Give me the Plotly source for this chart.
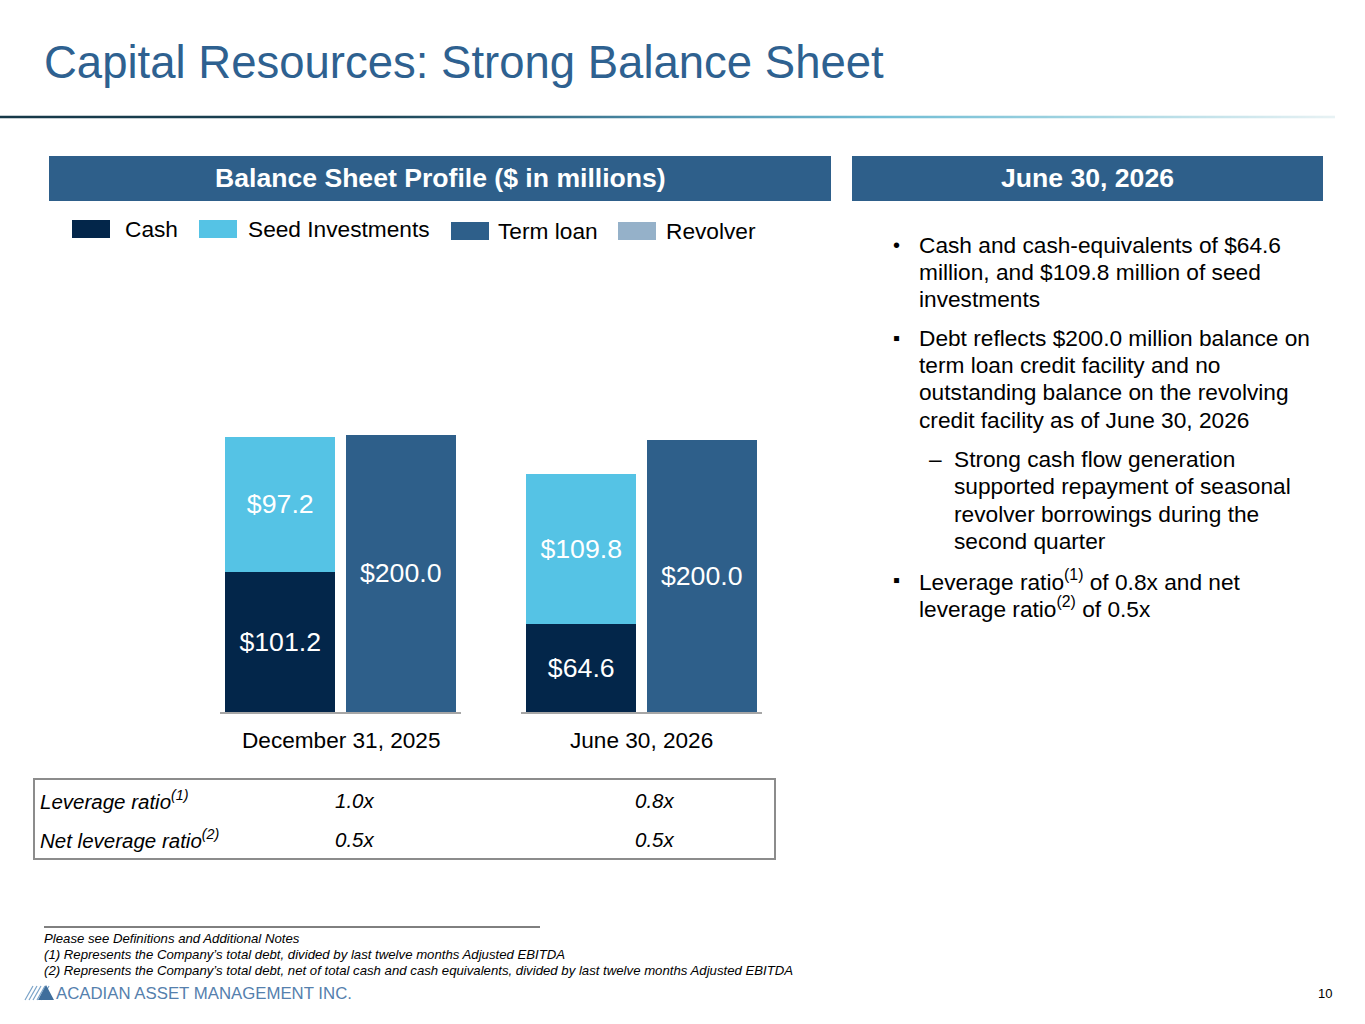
import plotly.graph_objects as go
from plotly.subplots import make_subplots

W, H = 1365, 1024

# Data ($ in millions)
periods = ["December 31, 2025", "June 30, 2026"]
cash = [101.2, 64.6]
seed_investments = [97.2, 109.8]
term_loan = [200.0, 200.0]
revolver = [0.0, 0.0]
leverage_ratio = ["1.0x", "0.8x"]
net_leverage_ratio = ["0.5x", "0.5x"]
bar_slots = ["assets", "debt"]

series_names = ["Cash", "Seed Investments", "Term loan", "Revolver"]
series_colors = ["#03264a", "#55c3e5", "#2e5f8a", "#95b1c9"]

FONT = "Arial, Liberation Sans, sans-serif"
BLUE = "#2e5f8a"


def px(x):
    return x / W


def py(y):
    return 1 - y / H


fig = make_subplots(rows=1, cols=2, shared_yaxes=False)

for i, period in enumerate(periods):
    col = i + 1
    stacks = [
        ("assets", cash[i], 0),
        ("assets", seed_investments[i], 1),
        ("debt", term_loan[i], 2),
        ("debt", revolver[i], 3),
    ]
    for slot, val, k in stacks:
        labelled = val > 0
        fig.add_trace(go.Bar(
            x=[slot], y=[val],
            name=series_names[k],
            marker=dict(color=series_colors[k], line=dict(width=0)),
            texttemplate="$%{y:.1f}" if labelled else None,
            textposition="inside" if labelled else "none",
            insidetextanchor="middle",
            textfont=dict(family=FONT, size=26.7, color="white"),
            showlegend=False,
            hoverinfo="skip",
        ), row=1, col=col)

# decorative gradient rule under the title (drawn as a smooth strip)
rule_stops = [(0.0, "rgb(22,56,72)"), (0.285, "rgb(28,69,86)"), (0.487, "rgb(74,138,166)"),
              (0.66, "rgb(111,188,212)"), (0.825, "rgb(166,214,226)"), (1.0, "rgb(232,242,244)")]
fig.add_trace(go.Heatmap(
    z=[[0, 1]], x=[0, 1], y=[0], colorscale=rule_stops, zmin=0, zmax=1,
    zsmooth="best", showscale=False, hoverinfo="skip",
    xaxis="x3", yaxis="y3",
))

fig.update_layout(
    width=W, height=H,
    margin=dict(l=0, r=0, t=0, b=0),
    paper_bgcolor="white", plot_bgcolor="white",
    barmode="stack", bargap=0.09,
    font=dict(family=FONT, color="black"),
    showlegend=False,
)

# two separate little charts, each with its own baseline
fig.update_layout(
    xaxis=dict(domain=[px(220), px(461)], categoryorder="array", categoryarray=bar_slots),
    xaxis2=dict(domain=[px(521), px(762)], categoryorder="array", categoryarray=bar_slots),
    yaxis=dict(domain=[py(712), py(400)], range=[0, 225]),
    yaxis2=dict(domain=[py(712), py(400)], range=[0, 229]),
    xaxis3=dict(domain=[0, px(1335)], range=[0, 1], visible=False, anchor="y3"),
    yaxis3=dict(domain=[py(118.5), py(115.5)], range=[-0.5, 0.5], visible=False, anchor="x3"),
)
fig.update_xaxes(showline=True, linecolor="#a6a6a6", linewidth=2, showticklabels=False,
                 ticks="", showgrid=False, zeroline=False, fixedrange=True, selector=dict(anchor="y"))
fig.update_xaxes(showline=True, linecolor="#a6a6a6", linewidth=2, showticklabels=False,
                 ticks="", showgrid=False, zeroline=False, fixedrange=True, selector=dict(anchor="y2"))
fig.update_yaxes(visible=False, showgrid=False, zeroline=False, fixedrange=True)

annotations = []
shapes = []


def text(x, y, s, size, color="black", xanchor="left", yanchor="middle", bold=False, italic=False):
    if bold:
        s = "<b>" + s + "</b>"
    if italic:
        s = "<i>" + s + "</i>"
    if xanchor == "left":
        x -= 2  # annotation padding
    annotations.append(dict(
        x=px(x), y=py(y), xref="paper", yref="paper", text=s, showarrow=False,
        xanchor=xanchor, yanchor=yanchor, align="left",
        font=dict(family=FONT, size=size, color=color),
    ))


# period labels under each group
for i, period in enumerate(periods):
    xr = "x domain" if i == 0 else "x2 domain"
    annotations.append(dict(
        x=0.5, y=py(740), xref=xr, yref="paper", text=period, showarrow=False,
        xanchor="center", yanchor="middle", font=dict(family=FONT, size=22.6, color="black"),
    ))

# title
text(44, 62, "Capital Resources: Strong Balance Sheet", 45.5, color="#2e6190")

# section headers
for x0, x1, label in [(49, 831, "Balance Sheet Profile ($ in millions)"), (852, 1323, "June 30, 2026")]:
    shapes.append(dict(type="rect", xref="paper", yref="paper", x0=px(x0), x1=px(x1),
                       y0=py(201), y1=py(156), fillcolor=BLUE, line=dict(width=0)))
    text((x0 + x1) / 2, 178, label, 26.6, color="white", xanchor="center", bold=True)

# legend
legend_pos = [(72, 125, 229), (199, 248, 229), (451, 498, 231), (618, 666, 231)]
for (bx, tx, ly), name, color in zip(legend_pos, series_names, series_colors):
    shapes.append(dict(type="rect", xref="paper", yref="paper", x0=px(bx), x1=px(bx + 38),
                       y0=py(ly + 9), y1=py(ly - 9), fillcolor=color, line=dict(width=0)))
    text(tx, ly, name, 22.7)

# right-hand commentary
bullets = [
    (893, 919, "•", [(245, "Cash and cash-equivalents of $64.6"),
                      (272, "million, and $109.8 million of seed"),
                      (299, "investments")]),
    (893, 919, "▪", [(338, "Debt reflects $200.0 million balance on"),
                      (365, "term loan credit facility and no"),
                      (392, "outstanding balance on the revolving"),
                      (420, "credit facility as of June 30, 2026")]),
    (929, 954, "–", [(459, "Strong cash flow generation"),
                      (486, "supported repayment of seasonal"),
                      (514, "revolver borrowings during the"),
                      (541, "second quarter")]),
    (893, 919, "▪", [(580, "Leverage ratio<sup>(1)</sup> of 0.8x and net"),
                      (607, "leverage ratio<sup>(2)</sup> of 0.5x")]),
]
for bx, tx, mark, lines in bullets:
    text(bx, lines[0][0], mark, 20 if mark != "–" else 22.7)
    for ly, s in lines:
        text(tx, ly, s, 22.7)

# ratio table
shapes.append(dict(type="rect", xref="paper", yref="paper", x0=px(34), x1=px(775),
                   y0=py(859), y1=py(779), line=dict(color="#8c8c8c", width=2)))
text(40, 800, "Leverage ratio<sup>(1)</sup>", 20.5, italic=True)
text(40, 839, "Net leverage ratio<sup>(2)</sup>", 20.5, italic=True)
for i, x in enumerate([335, 635]):
    text(x, 800, leverage_ratio[i], 20.5, italic=True)
    text(x, 839, net_leverage_ratio[i], 20.5, italic=True)

# footnotes
shapes.append(dict(type="line", xref="paper", yref="paper", x0=px(44), x1=px(540),
                   y0=py(927), y1=py(927), line=dict(color="black", width=1)))
notes = [
    "Please see Definitions and Additional Notes",
    "(1) Represents the Company’s total debt, divided by last twelve months Adjusted EBITDA",
    "(2) Represents the Company’s total debt, net of total cash and cash equivalents, divided by last twelve months Adjusted EBITDA",
]
for k, s in enumerate(notes):
    text(44, 938 + 16 * k, s, 13.2, italic=True)

# company mark
for k in range(5):
    x0 = 25 + 4 * k
    shapes.append(dict(type="line", xref="paper", yref="paper", x0=px(x0), x1=px(x0 + 8),
                       y0=py(1000), y1=py(986), line=dict(color="#7aa3c8", width=1.2)))
shapes.append(dict(type="path", xref="paper", yref="paper",
                   path="M %f %f L %f %f L %f %f Z" % (px(38), py(1000), px(46), py(985), px(54), py(1000)),
                   fillcolor="#3f6e9c", line=dict(width=0)))
text(56, 993, "ACADIAN ASSET MANAGEMENT INC.", 16.8, color="#5580ad")
text(1334, 993, "10", 13, xanchor="right")

fig.update_layout(annotations=annotations, shapes=shapes)

fig.write_html("out.html", config={"displayModeBar": False},
               post_script="document.body.style.margin='0';")
